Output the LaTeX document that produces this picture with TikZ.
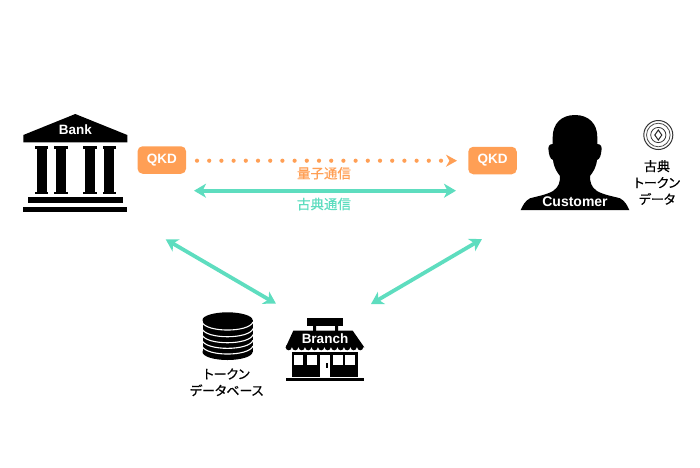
\documentclass[tikz,border=0pt]{standalone}
\usepackage{fontspec}
\usepackage{xcolor}
\setmainfont{Liberation Sans}
\newfontfamily\jpfont[RawFeature={+palt;embolden=0.5}]{Noto Sans CJK JP}
\usetikzlibrary{arrows.meta,positioning}
\definecolor{qkdorange}{HTML}{FF9F55}
\definecolor{classicgreen}{HTML}{5EDDBF}
\tikzset{
  iconlabel/.style={font=\bfseries\fontsize{13.5}{14}\selectfont, text=white, inner sep=0pt},
  qkdbox/.style={
    rectangle,
    rounded corners=5pt,
    fill=qkdorange,
    minimum width=48.5pt,
    minimum height=27.5pt,
    inner sep=0pt,
    text=white,
    font=\bfseries\fontsize{13.5}{14}\selectfont
  },
  jplabel/.style={align=center, inner sep=0pt, font=\jpfont\fontsize{13}{16.5}\selectfont},
  linklabel/.style={inner sep=0pt, font=\jpfont\fontsize{13.5}{14}\selectfont},
  classicarrow/.style={{Stealth[length=12pt,width=14pt,inset=3.5pt]}-{Stealth[length=12pt,width=14pt,inset=3.5pt]}, line width=3.8pt, draw=classicgreen},
  quantumarrow/.style={-{Stealth[length=11pt,width=12pt,inset=3.5pt]}, line width=4.2pt, draw=qkdorange, line cap=round, dash pattern=on 0pt off 12.2pt}
}
\begin{document}
\begin{tikzpicture}[x=1pt,y=-1pt]
\useasboundingbox (0,0) rectangle (700,467);
% bank
\fill (75.3,114) -- (127.3,135) -- (127.3,142.3) -- (23.3,142.3) -- (23.3,135) -- cycle;
\foreach \colx in {41.7,60.8,90,109.3} {
  \fill (\colx-6.7,146) rectangle (\colx+6.7,148.5);
  \fill (\colx-5,148) rectangle (\colx+5,192);
  \fill (\colx-6.7,191.5) rectangle (\colx+6.7,194);
}
\fill (28.3,197.3) rectangle (122.7,203.3);
\fill (23.3,206.7) rectangle (127.3,212.3);
\node[iconlabel] (bank) at (75.3,130) {Bank};
% customer
\fill (575,115) .. controls (589,115) and (597.3,124) .. (597.3,137) -- (597.3,144)
  .. controls (601,144) and (602,147) .. (601.5,150) .. controls (601,155) and (600,159) .. (597,160)
  .. controls (596,168) and (593,172) .. (590,176) .. controls (590,182) and (591,187) .. (597,191)
  .. controls (604,195) and (612,196) .. (620,198.3) .. controls (625,201) and (627,205) .. (629.3,210)
  -- (520.7,210) .. controls (523,205) and (525,201) .. (530,198.3)
  .. controls (538,196) and (546,195) .. (553,191) .. controls (559,187) and (560,182) .. (560,176)
  .. controls (557,172) and (554,168) .. (553,160) .. controls (550,159) and (549,155) .. (548.5,150)
  .. controls (548,147) and (549,144) .. (552.7,144) -- (552.7,137)
  .. controls (552.7,124) and (561,115) .. (575,115) -- cycle;
\node[iconlabel, font=\bfseries\fontsize{14}{15}\selectfont] (customer) at (575,201.7) {Customer};
% token
\coordinate (tokenc) at (658.3,135);
\draw[line width=1pt, black!80] (tokenc) circle (14.5);
\draw[line width=0.8pt, black!70] (tokenc) circle (11.8);
\draw[line width=0.8pt, black!80] (tokenc) circle (7.6);
\draw[line width=1pt, black!85] (658.3,130) -- (661.8,135) -- (658.3,140) -- (654.8,135) -- cycle;
\node[jplabel] (tokenlabel) at (657,182.5) {古典\\トークン\\データ};
% database
\fill (227.5,320) ellipse [x radius=25, y radius=7.7];
\fill (227.5,352) ellipse [x radius=25, y radius=8];
\fill (202.5,320) rectangle (252.5,352);
\foreach \disky in {330,336.7,342.7,348.3,354} {
  \draw[white, line width=1.1pt] (202,\disky-8) .. controls (206,\disky+2.7) and (249,\disky+2.7) .. (253,\disky-8);
}
\node[jplabel] (dblabel) at (226.7,382.3) {トークン\\データベース};
% branch
\fill (307.3,317.7) rectangle (343.3,326);
\fill (313,326) rectangle (316,331) (335,326) rectangle (338,331);
\fill (293.3,330.7) -- (352.7,330.7) -- (364.3,347.3) -- (285.7,347.3) -- cycle;
\foreach \scallopx in {288.7,295.2,...,362} {
  \fill (\scallopx,347.3) circle (3);
}
\fill (291.7,351.7) rectangle (358.3,376.7);
\fill[white] (294,355) rectangle (303.3,365);
\fill[white] (306.7,355) rectangle (316.7,365);
\fill[white] (320,355) rectangle (330,376.8);
\fill[white] (332.7,355) rectangle (342.7,365);
\fill[white] (345,355) rectangle (355,365);
\fill (326,362.5) rectangle (327.5,367.5);
\fill (285.7,377.7) rectangle (364,381);
\node[iconlabel] (branch) at (325,339) {Branch};
% qkd boxes
\node[qkdbox] (qkdbank) at (161.8,160) {QKD};
\node[qkdbox] (qkdcust) at (492.5,160.5) {QKD};
% free ends of the links
\coordinate (qs) at (197,160.7);
\coordinate (qe) at (457,160.7);
\coordinate (cs) at (194,190.7);
\coordinate (ce) at (456,190.7);
\coordinate (bl1) at (165.7,239.3);
\coordinate (bl2) at (276,303.7);
\coordinate (cl1) at (482,239);
\coordinate (cl2) at (371,304);
\draw[quantumarrow] (qs) -- (qe);
\draw[classicarrow] (cs) -- (ce);
\draw[classicarrow] (bl1) -- (bl2);
\draw[classicarrow] (cl1) -- (cl2);
\node[linklabel, text=qkdorange] (quantumlabel) at (324,173.3) {量子通信};
\node[linklabel, text=classicgreen] (classiclabel) at (324,204) {古典通信};
\end{tikzpicture}
\end{document}
